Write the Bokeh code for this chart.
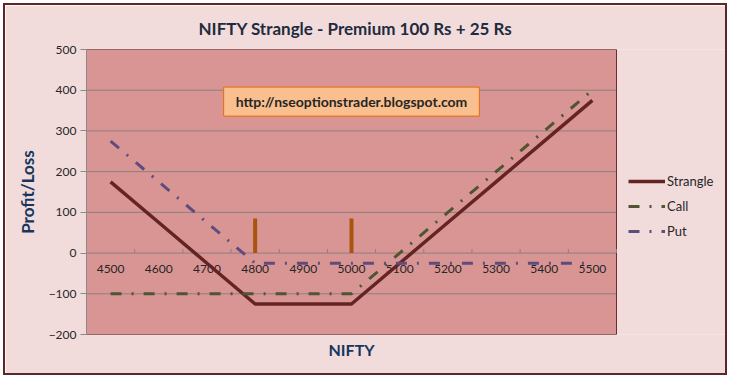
from bokeh.plotting import figure
from bokeh.models import Range1d, Legend, LegendItem, Label, FixedTicker, Title
from bokeh.embed import file_html
from bokeh.resources import INLINE
from bokeh.core.properties import value

# ---- data ----
nifty = [4500, 4600, 4700, 4800, 4900, 5000, 5100, 5200, 5300, 5400, 5500]
nifty_labels = [str(v) for v in nifty]
strangle = [175, 75, -25, -125, -125, -125, -25, 75, 175, 275, 375]
call = [-100, -100, -100, -100, -100, -100, 0, 100, 200, 300, 400]
put = [275, 175, 75, -25, -25, -25, -25, -25, -25, -25, -25]
strikes = [4800, 5000]
strike_marker = [85, 85]
y_ticks = [-200, -100, 0, 100, 200, 300, 400, 500]
title_text = "NIFTY Strangle - Premium 100 Rs + 25 Rs"
x_title = "NIFTY"
y_title = "Profit/Loss"
note_text = "http://nseoptionstrader.blogspot.com"

FONT = "Lato"
W, H = 724, 372
LEFT, TOP, BOTTOM = 81, 44, 43
PLOT_W = 530  # width of the coloured plot area in px
n = len(nifty)
idx = list(range(n))
strike_idx = [nifty.index(s) for s in strikes]
bounds = [i - 0.5 for i in range(n + 1)]
x0, x1 = -0.5, n - 0.5
frame_w = W - LEFT
x_end = x0 + frame_w / PLOT_W * (x1 - x0)
y0, y1 = y_ticks[0], y_ticks[-1]

p = figure(width=W, height=H,
           x_range=Range1d(x0, x_end), y_range=Range1d(y0, y1),
           output_backend="svg", toolbar_location=None, x_axis_location=None,
           min_border_left=LEFT, min_border_right=0, min_border_top=TOP, min_border_bottom=BOTTOM,
           background_fill_color="#F2DCDB", border_fill_color="#F2DCDB")
p.styles = {"margin": "3px", "border": "2px solid #5E2626"}
p.outline_line_color = None
p.xgrid.visible = False
p.ygrid.visible = False

# plot area
p.quad(left=[x0], right=[x1], bottom=[y0], top=[y1], fill_color="#D99594", line_color=None)
p.segment(x0=[x0] * len(y_ticks), y0=y_ticks, x1=[x1] * len(y_ticks), y1=y_ticks,
          line_color="#8A8080", line_width=1)
p.quad(left=[x0], right=[x1], bottom=[y0], top=[y1], fill_color=None,
       line_color="#6B2C2C", line_width=1)

# title
p.title.text = title_text
p.title.align = "left"
p.title.offset = 112
p.title.text_font = FONT
p.title.text_font_size = "17px"
p.title.text_font_style = "bold"
p.title.text_color = "#1F2B3F"
p.title.standoff = 21

# x title below
p.add_layout(Title(text=x_title, align="left", offset=242,
                   text_font=FONT, text_font_size="16px", text_font_style="bold",
                   text_color="#17365D", standoff=6), "below")

# y axis
ya = p.yaxis[0]
ya.ticker = FixedTicker(ticks=y_ticks)
ya.major_tick_out = 6
ya.major_tick_in = 0
ya.minor_tick_line_color = None
ya.axis_line_color = "#8A8A8A"
ya.major_tick_line_color = "#8A8A8A"
ya.major_label_text_font = FONT
ya.major_label_text_font_size = "12px"
ya.major_label_text_color = "#262626"
ya.major_label_standoff = 4
ya.axis_label = y_title
ya.axis_label_text_font = FONT
ya.axis_label_text_font_size = "17px"
ya.axis_label_text_font_style = "bold"
ya.axis_label_text_color = "#17365D"
ya.axis_label_standoff = 8

# category ticks and labels on the zero line
p.segment(x0=bounds, y0=[0] * len(bounds), x1=bounds, y1=[10] * len(bounds),
          line_color="#8A8080", line_width=1)
p.text(x=idx, y=[0] * n, text=nifty_labels, text_align="center",
       text_baseline="middle", y_offset=16, text_font=value(FONT),
       text_font_size="12px", text_color="#262626")

# strike markers
p.segment(x0=strike_idx, y0=[0] * len(strike_idx), x1=strike_idx, y1=strike_marker,
          line_color="#A9540F", line_width=4)

r_str = p.line(idx, strangle, line_color="#632423", line_width=3.5)
r_call = p.line(idx, call, line_color="#4F5530", line_width=3, line_dash="11 10 2 10")
r_put = p.line(idx, put, line_color="#5F4B7E", line_width=3, line_dash="11 10 2 10")

legend = Legend(items=[LegendItem(label="Strangle", renderers=[r_str]),
                       LegendItem(label="Call", renderers=[r_call]),
                       LegendItem(label="Put", renderers=[r_put])],
                location=(PLOT_W + 12, 93), background_fill_alpha=0, border_line_color=None,
                label_text_font=FONT, label_text_font_size="13px", label_text_color="#262626",
                glyph_width=37, glyph_height=20, label_height=20, spacing=5,
                padding=0, margin=0, label_standoff=2)
p.add_layout(legend)

note = Label(x=(n - 1) / 2, y=372, text=note_text, text_align="center", text_baseline="middle",
             text_font=FONT, text_font_size="14px", text_font_style="bold",
             text_color="#262626", background_fill_color="#FABF8F",
             border_line_color="#E46C0A", border_line_width=1, padding=(12, 6))
p.add_layout(note)

open("out.html", "w").write(file_html(p, INLINE))
